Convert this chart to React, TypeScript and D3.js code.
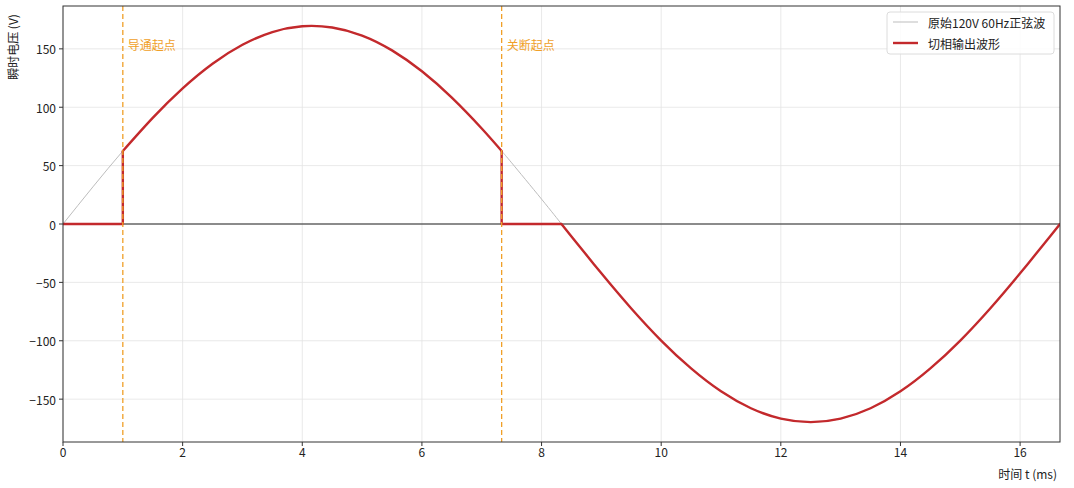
import React from "react";
import * as d3 from "d3";

// time samples (ms) and original 120V 60Hz sine values (V)
const TIME = [0, 0.5, 1.0, 1.5, 2.0, 2.5, 3.0, 3.5, 4.0, 4.5, 5.0, 5.5, 6.0, 6.5, 7.0, 7.333, 7.5, 8.0, 8.333, 8.5, 9.0, 9.5, 10.0, 10.5, 11.0, 11.5, 12.0, 12.5, 13.0, 13.5, 14.0, 14.5, 15.0, 15.5, 16.0, 16.5, 16.667];
const VOLT = [0, 31.8, 62.5, 90.9, 116.2, 137.3, 153.5, 164.4, 169.4, 168.3, 161.4, 148.7, 130.8, 108.2, 81.8, 62.5, 52.4, 21.3, 0, -10.7, -42.2, -72.3, -99.8, -123.7, -143.3, -157.8, -166.7, -169.7, -166.7, -157.8, -143.3, -123.7, -99.8, -72.3, -42.2, -10.7, 0];

const FIRE_ON = 1.0;     // 导通起点 (ms)
const FIRE_OFF = 7.333;  // 关断起点 (ms)
const HALF_END = 8.333;  // zero crossing (ms)
const T_END = 16.667;
const V_LIM = 186.7;

const X_TICKS = [0, 2, 4, 6, 8, 10, 12, 14, 16];
const Y_TICKS = [-150, -100, -50, 0, 50, 100, 150];

const W = 1074, H = 488;
const M = { left: 63, right: 1060, top: 6, bottom: 442 };
const FONT = "'Noto Sans CJK SC', 'Noto Sans', sans-serif";
const RED = "#c3292c";
const ORANGE = "#f0a028";

export default function App() {
  const x = d3.scaleLinear().domain([0, T_END]).range([M.left, M.right]);
  const y = d3.scaleLinear().domain([-V_LIM, V_LIM]).range([M.bottom, M.top]);
  const pts = TIME.map((t, i) => [t, VOLT[i]] as [number, number]);
  const curve = d3.line<[number, number]>().x(d => x(d[0])).y(d => y(d[1])).curve(d3.curveNatural);
  const lin = d3.line<[number, number]>().x(d => x(d[0])).y(d => y(d[1]));
  const eps = 1e-6;
  const on = pts.filter(p => p[0] >= FIRE_ON - eps && p[0] <= FIRE_OFF + eps);
  const neg = pts.filter(p => p[0] >= HALF_END - eps);
  const vOn = on[0][1];
  const vOff = on[on.length - 1][1];
  const step1: [number, number][] = [[0, 0], [FIRE_ON, 0], [FIRE_ON, vOn]];
  const step2: [number, number][] = [[FIRE_OFF, vOff], [FIRE_OFF, 0], [HALF_END, 0]];
  const fmt = (v: number) => (v < 0 ? "\u2212" + Math.abs(v) : String(v));

  return (
    <svg width={W} height={H} style={{ position: "absolute", left: 0, top: 0, background: "#fff" }} fontFamily={FONT}>
      <rect x={0} y={0} width={W} height={H} fill="#fff" />
      <defs>
        <clipPath id="plot"><rect x={M.left} y={M.top} width={M.right - M.left} height={M.bottom - M.top} /></clipPath>
      </defs>
      {/* grid */}
      {X_TICKS.map(t => (
        <line key={"gx" + t} x1={x(t)} x2={x(t)} y1={M.top} y2={M.bottom} stroke="#e3e3e3" strokeWidth={0.8} />
      ))}
      {Y_TICKS.map(t => (
        <line key={"gy" + t} x1={M.left} x2={M.right} y1={y(t)} y2={y(t)} stroke="#e3e3e3" strokeWidth={0.8} />
      ))}
      <g clipPath="url(#plot)">
        {/* zero line */}
        <line x1={M.left} x2={M.right} y1={y(0)} y2={y(0)} stroke="#222" strokeWidth={1} />
        {/* original sine */}
        <path d={curve(pts) || ""} fill="none" stroke="#bdbdbd" strokeWidth={1} />
        {/* phase-cut output */}
        <path d={lin(step1) || ""} fill="none" stroke={RED} strokeWidth={2.4} strokeLinejoin="round" />
        <path d={curve(on) || ""} fill="none" stroke={RED} strokeWidth={2.4} strokeLinecap="round" />
        <path d={lin(step2) || ""} fill="none" stroke={RED} strokeWidth={2.4} strokeLinejoin="round" />
        <path d={curve(neg) || ""} fill="none" stroke={RED} strokeWidth={2.4} strokeLinecap="round" />
        {/* markers */}
        {[FIRE_ON, FIRE_OFF].map(t => (
          <line key={"v" + t} x1={x(t)} x2={x(t)} y1={M.top} y2={M.bottom} stroke={ORANGE} strokeWidth={1.3} strokeDasharray="5,3" />
        ))}
      </g>
      <text x={x(FIRE_ON) + 5} y={y(150) - 2} fill={ORANGE} fontSize={12} dominantBaseline="middle">导通起点</text>
      <text x={x(FIRE_OFF) + 5} y={y(150) - 2} fill={ORANGE} fontSize={12} dominantBaseline="middle">关断起点</text>
      {/* frame */}
      <rect x={M.left} y={M.top} width={M.right - M.left} height={M.bottom - M.top} fill="none" stroke="#333" strokeWidth={1} />
      {/* x ticks */}
      {X_TICKS.map(t => (
        <g key={"xt" + t}>
          <line x1={x(t)} x2={x(t)} y1={M.bottom} y2={M.bottom + 4} stroke="#333" />
          <text x={x(t)} y={M.bottom + 15} textAnchor="middle" fontSize={12} fill="#222">{fmt(t)}</text>
        </g>
      ))}
      {Y_TICKS.map(t => (
        <g key={"yt" + t}>
          <line x1={M.left - 4} x2={M.left} y1={y(t)} y2={y(t)} stroke="#333" />
          <text x={M.left - 7} y={y(t)} textAnchor="end" dominantBaseline="central" fontSize={12} fill="#222">{fmt(t)}</text>
        </g>
      ))}
      <text x={M.right - 3} y={479} textAnchor="end" fontSize={12} fill="#222">时间 t (ms)</text>
      <text transform={`translate(18, 47) rotate(-90)`} textAnchor="middle" fontSize={12} fill="#222">瞬时电压 (V)</text>
      {/* legend */}
      <g>
        <rect x={887} y={12} width={167} height={42} rx={3} fill="#fff" fillOpacity={0.85} stroke="#dcdcdc" />
        <line x1={893} x2={918} y1={22} y2={22} stroke="#bdbdbd" strokeWidth={1} />
        <text x={928} y={22} dominantBaseline="central" fontSize={12} fill="#222">原始120V 60Hz正弦波</text>
        <line x1={893} x2={918} y1={43} y2={43} stroke={RED} strokeWidth={2.4} />
        <text x={928} y={43} dominantBaseline="central" fontSize={12} fill="#222">切相输出波形</text>
      </g>
    </svg>
  );
}
